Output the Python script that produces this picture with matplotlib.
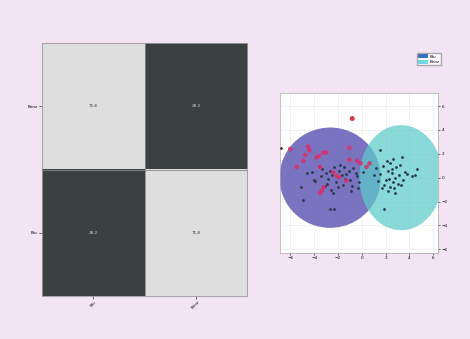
import numpy as np
import matplotlib
matplotlib.use('Agg')
import matplotlib.pyplot as plt
from matplotlib.colors import ListedColormap
from matplotlib.patches import Ellipse, Patch

# confusion matrix (percent)
row_labels = ['Benz', 'Blu']
col_labels = ['Blu', 'Benz']
cm = np.array([[71.8, 28.2],
               [28.2, 71.8]])

# scatter data
red_x = [-6.0, -4.5, -4.4, -4.75, -4.9, -3.8, -3.6, -3.25, -3.0, -5.45, -3.5,
         -1.05, -1.05, -0.4, -0.1, 0.4, 0.65, -2.4, -2.1, -1.9, -3.2, -3.35, -3.5, -1.3]
red_y = [2.4, 2.6, 2.3, 1.9, 1.4, 1.7, 1.8, 2.1, 2.1, 0.9, 0.9,
         2.5, 1.5, 1.4, 1.2, 0.9, 1.2, 0.45, 0.15, 0.05, -0.8, -1.1, -1.3, -0.25]
star_x = [-0.8]
star_y = [4.95]

dark_x = [-6.8, -5.1, -4.9, -2.65, -2.35, -3.6, -3.3, -3.0, -2.8, -2.5, -2.2, -1.9,
          -1.6, -1.3, -1.0, -0.7, -0.4, -4.2, -3.9, -3.4, -2.9, -2.6, -2.3, -2.0,
          -1.7, -1.4, -1.1, -0.8, -0.5, -0.2, -2.7, -2.4, -3.1, -1.8, -1.5, -0.9,
          -4.6, -4.0, -0.3, 0.1,
          1.55, 2.6, 3.4, 4.6, 4.5, 4.2, 1.85, 2.8, 1.2, 1.5, 1.8, 2.0, 2.2, 2.4,
          2.6, 2.9, 3.1, 3.3, 3.6, 1.4, 1.7, 2.1, 2.3, 2.5, 2.7, 3.0, 3.2, 3.5,
          1.9, 2.2, 2.5, 2.8, 3.8, 1.0, 2.4]
dark_y = [2.5, -0.8, -1.9, -2.6, -2.6, 1.0, 0.7, 0.4, -0.1, 0.2, -0.4, 0.6,
          -0.6, 0.3, -0.2, 0.8, 0.1, 0.5, -0.3, 0.1, -0.5, -1.0, 0.9, -0.8,
          0.2, -0.1, 0.6, -0.7, 0.4, -0.4, 0.6, -1.3, -0.7, 1.1, 0.9, -1.1,
          0.4, -0.2, -0.9, 0.5,
          2.3, 1.6, 1.7, 0.7, 0.2, 0.1, -2.6, -1.3, 0.8, 0.3, 1.0, -0.2, 0.6, 1.2,
          -0.4, 0.9, 0.2, -0.6, 0.5, -0.3, -0.9, 1.4, -0.1, 0.4, -0.9, -0.5, 1.1, -0.2,
          -0.6, -1.1, 0.7, 0.0, 0.3, 0.2, -0.8]

bg = '#f2e4f2'
fig = plt.figure(figsize=(4.7, 3.39), dpi=100, facecolor=bg)

# heatmap -------------------------
ax1 = fig.add_axes([0.089, 0.127, 0.437, 0.746])
ax1.imshow(cm, cmap=ListedColormap(['#3b4141', '#dedede']), vmin=28.2, vmax=71.8,
           aspect='auto', interpolation='nearest')
for i in range(2):
    for j in range(2):
        c = '#333333' if cm[i, j] > 50 else '#dddddd'
        ax1.text(j, i, f'{cm[i, j]:.1f}', ha='center', va='center', fontsize=3, color=c)
ax1.axhline(0.5, color='#888888', lw=0.6)
ax1.axvline(0.5, color='#888888', lw=0.6)
ax1.set_xticks([0, 1])
ax1.set_xticklabels(col_labels, rotation=45, fontsize=3)
ax1.set_yticks([0, 1])
ax1.set_yticklabels(row_labels, fontsize=3)
ax1.tick_params(length=2, width=0.4, pad=1)
for s in ax1.spines.values():
    s.set_color('#999999')
    s.set_linewidth(0.6)

# scatter with class regions ------
ax2 = fig.add_axes([0.596, 0.254, 0.336, 0.472])
ax2.set_facecolor('white')
ax2.set_xlim(-6.85, 6.4)
ax2.set_ylim(-6.3, 7.1)
ax2.add_patch(Ellipse((-2.65, 0.0), 8.5, 8.4, facecolor='#6760b8', alpha=0.88, zorder=2))
ax2.add_patch(Ellipse((3.3, 0.0), 7.0, 8.8, facecolor='#5ccbcb', alpha=0.72, zorder=3))
ax2.scatter(dark_x, dark_y, s=1.0, color='#2a3a4c', zorder=5)
ax2.scatter(red_x, red_y, s=11, color='#d8306a', alpha=0.85, edgecolors='none', zorder=6)
ax2.scatter(star_x, star_y, s=13, color='#d83a4a', edgecolors='none', zorder=6)
ax2.set_xticks([-6, -4, -2, 0, 2, 4, 6])
ax2.set_yticks([-6, -4, -2, 0, 2, 4, 6])
ax2.yaxis.tick_right()
ax2.grid(color='#e6e6e6', lw=0.4, zorder=0)
ax2.set_axisbelow(True)
ax2.tick_params(labelsize=3, length=1.5, width=0.4, pad=1)
for s in ax2.spines.values():
    s.set_color('#aaaaaa')
    s.set_linewidth(0.5)

handles = [Patch(facecolor='#3a6fc0', edgecolor='none', label='Blu'),
           Patch(facecolor='#6fd8e0', edgecolor='none', label='Benz')]
fig.legend(handles=handles, loc='upper left', bbox_to_anchor=(0.887, 0.843),
           fontsize=3, frameon=True, fancybox=False, edgecolor='#999999',
           handlelength=2.4, handleheight=1.1, borderpad=0.3, labelspacing=0.15,
           handletextpad=0.3, borderaxespad=0)

fig.savefig('out.png', dpi=100, facecolor=bg)
